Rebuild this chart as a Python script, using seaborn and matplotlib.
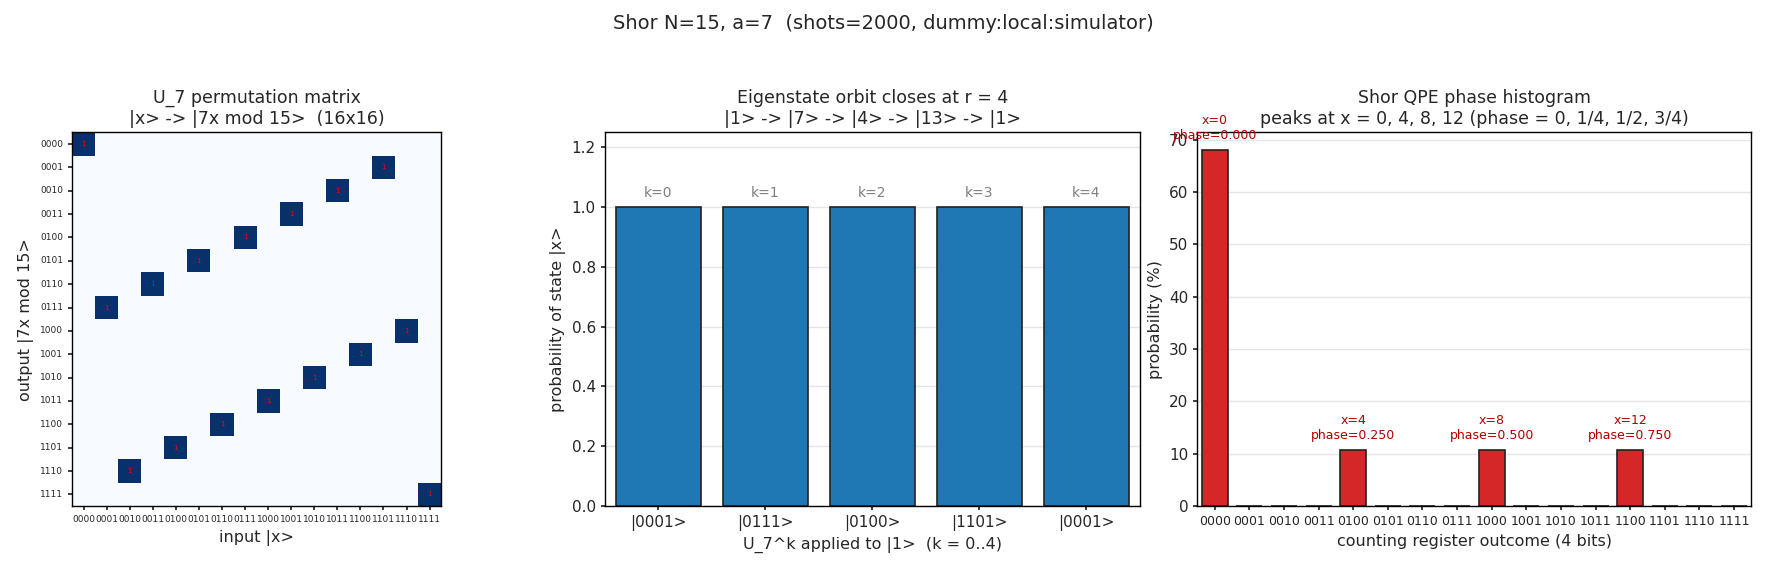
import numpy as np
import pandas as pd
import matplotlib
matplotlib.use("Agg")
import matplotlib.pyplot as plt
import seaborn as sns

N = 15
a = 7
bits = [format(i, "04b") for i in range(16)]
orbit_labels = ["|0001>", "|0111>", "|0100>", "|1101>", "|0001>"]
orbit_probs = [1.0, 1.0, 1.0, 1.0, 1.0]
qpe_probs = [68.0, 0, 0, 0, 10.8, 0, 0, 0, 10.8, 0, 0, 0, 10.8, 0, 0, 0]
peaks = [0, 4, 8, 12]

sns.set_theme(style="white")
plt.rcParams['font.family'] = ['DejaVu Sans']

fig = plt.figure(figsize=(17.66, 5.68), dpi=100)
fig.suptitle("Shor N=15, a=7  (shots=2000, dummy:local:simulator)", fontsize=14, y=0.975)

B, H = 0.109, 0.658

# Panel 1
M = np.zeros((16, 16))
for x in range(16):
    y = (a * x) % N if x < N else x
    M[y, x] = 1
ax1 = fig.add_axes([0.0408, B, 0.209, H])
annot = np.where(M == 1, "1", "")
sns.heatmap(M, ax=ax1, cmap="Blues", cbar=False, annot=annot, fmt="",
            annot_kws={"color": "red", "fontsize": 5}, square=False,
            xticklabels=bits, yticklabels=bits)
for s in ax1.spines.values():
    s.set_visible(True); s.set_color("black"); s.set_linewidth(1)
ax1.tick_params(axis="both", labelsize=6.5, length=3, left=True, bottom=True)
plt.setp(ax1.get_xticklabels(), rotation=0)
plt.setp(ax1.get_yticklabels(), rotation=0)
ax1.set_xlabel("input |x>", fontsize=11.5)
ax1.set_ylabel("output |7x mod 15>", fontsize=11.5)
ax1.set_title("U_7 permutation matrix\n|x> -> |7x mod 15>  (16x16)", fontsize=12.5)

# Panel 2
ax2 = fig.add_axes([0.3425, B, 0.303, H])
df2 = pd.DataFrame({"k": range(5), "p": orbit_probs})
sns.barplot(data=df2, x="k", y="p", ax=ax2, color="#1f77b4", saturation=1,
            edgecolor="#222222", linewidth=1.2, width=0.8)
ax2.set_xticks(range(5)); ax2.set_xticklabels(orbit_labels)
for i, p in enumerate(orbit_probs):
    ax2.text(i, p + 0.025, f"k={i}", ha="center", va="bottom", color="gray", fontsize=10)
ax2.set_ylim(0, 1.25)
ax2.set_yticks([0, 0.2, 0.4, 0.6, 0.8, 1.0, 1.2])
ax2.yaxis.grid(True, color="#e5e5e5"); ax2.set_axisbelow(True)
ax2.set_xlabel("U_7^k applied to |1>  (k = 0..4)", fontsize=11.5)
ax2.set_ylabel("probability of state |x>", fontsize=11.5)
ax2.set_title("Eigenstate orbit closes at r = 4\n|1> -> |7> -> |4> -> |13> -> |1>", fontsize=12.5)

# Panel 3
ax3 = fig.add_axes([0.678, B, 0.3137, H])
df3 = pd.DataFrame({"x": bits, "p": qpe_probs})
sns.barplot(data=df3, x="x", y="p", ax=ax3, color="#d62728", saturation=1,
            edgecolor="#222222", linewidth=1.2, width=0.75)
for xp in peaks:
    ax3.text(xp, qpe_probs[xp] + 1.5, f"x={xp}\nphase={xp/16:.3f}", ha="center", va="bottom",
             color="#b00000", fontsize=9)
ax3.set_ylim(0, 71.4)
ax3.yaxis.grid(True, color="#e5e5e5"); ax3.set_axisbelow(True)
ax3.tick_params(axis="x", labelsize=9)
ax3.set_xlabel("counting register outcome (4 bits)", fontsize=11.5)
ax3.set_ylabel("probability (%)", fontsize=11.5)
ax3.set_title("Shor QPE phase histogram\npeaks at x = 0, 4, 8, 12 (phase = 0, 1/4, 1/2, 3/4)", fontsize=12.5)

for ax in (ax2, ax3):
    for s in ax.spines.values():
        s.set_color("black"); s.set_linewidth(1)
    ax.tick_params(left=True, bottom=True, length=3)

fig.savefig("out.png", dpi=100)
